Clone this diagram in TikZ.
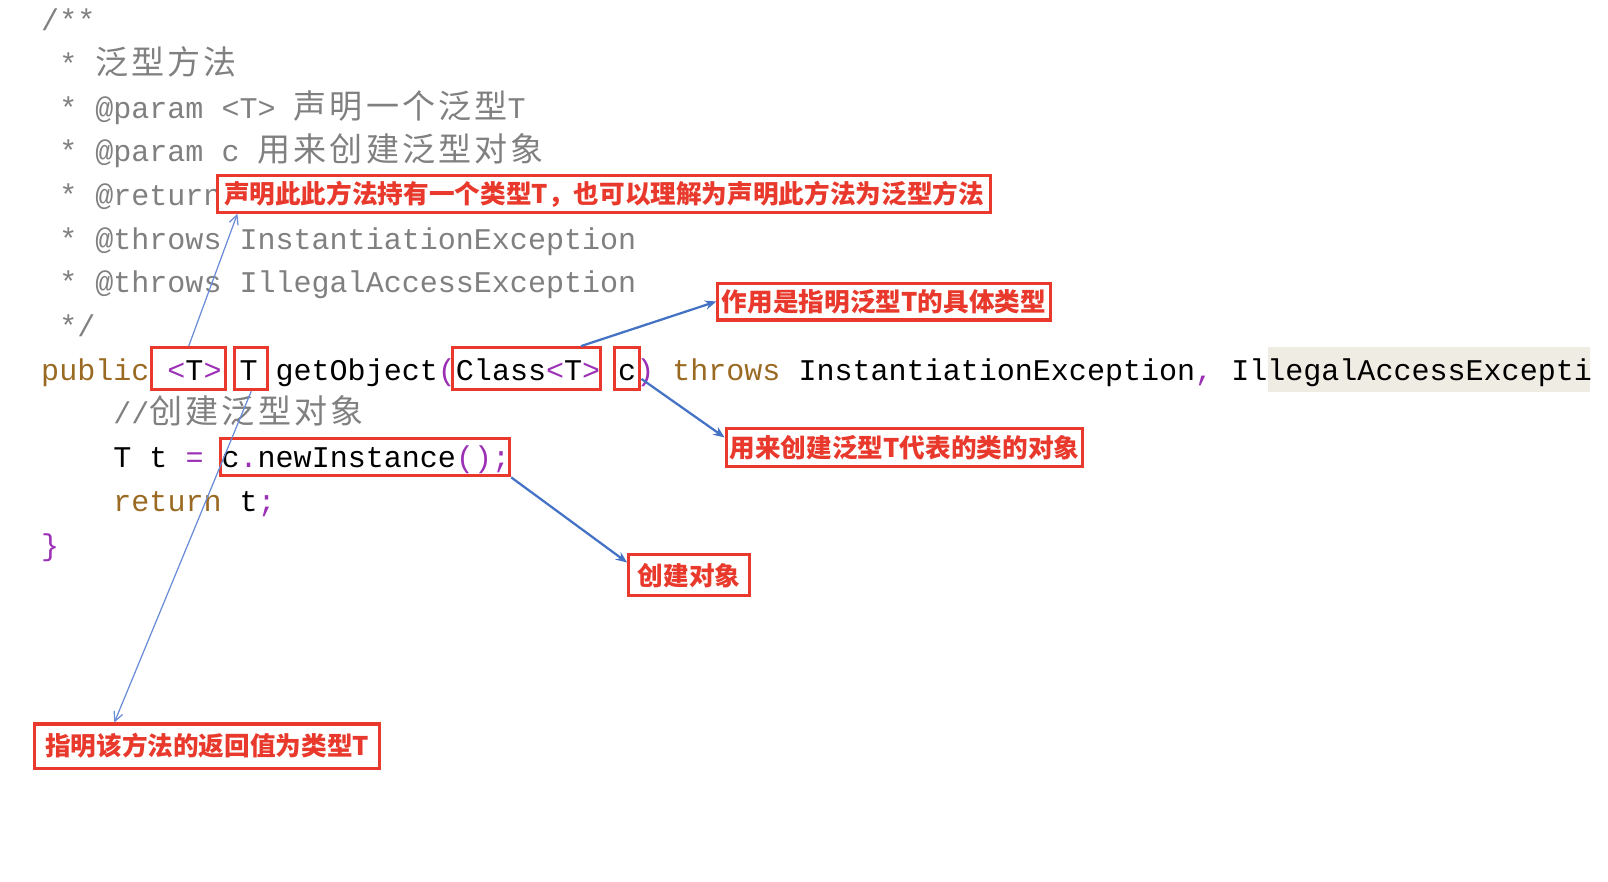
\documentclass[tikz,border=0pt]{standalone}
\usepackage{fontspec}
\usepackage{xcolor}
\usetikzlibrary{arrows.meta,positioning}
\setmonofont{Liberation Mono}
\newfontfamily\cjk{Noto Sans CJK SC}
\newfontfamily\cjkcode[Scale=1.1,LetterSpace=9.5]{Noto Sans CJK SC}
\definecolor{comment}{HTML}{808080}
\definecolor{keyword}{HTML}{9A6A22}
\definecolor{punct}{HTML}{9B2FB5}
\definecolor{mark}{HTML}{E8392C}
\definecolor{pointer}{HTML}{4472C4}
\definecolor{pointerlight}{HTML}{6A8BD6}
\definecolor{hilite}{HTML}{EFEDE3}
\newcommand\kw[1]{\textcolor{keyword}{#1}}
\newcommand\punc[1]{\textcolor{punct}{#1}}
\tikzset{
    % code line style
    code/.style={
        anchor=base west,
        inner sep=0pt,
        font=\ttfamily\fontsize{29.3pt}{34pt}\selectfont
    },
    comment line/.style={
        code,
        text=comment
    },
    % red frame round a piece of code
    marked/.style={
        rectangle,
        draw=mark,
        line width=3pt,
        inner sep=0pt,
        minimum height=41pt
    },
    % red note box
    note/.style={
        rectangle,
        draw=mark,
        fill=white,
        line width=3pt,
        inner sep=0pt,
        text=mark,
        font=\cjk\bfseries\fontsize{25pt}{29pt}\selectfont
    },
    % arrow styles
    pointer/.style={
        -{Stealth[length=11pt, width=9pt]},
        line width=2.2pt,
        color=pointer
    },
    pointer thin/.style={
        -{Straight Barb[length=9pt, width=9pt]},
        line width=1.2pt,
        color=pointerlight
    }
}
\begin{document}
\begin{tikzpicture}[x=1pt, y=-1pt]
    \useasboundingbox (0,0) rectangle (1568,860);

    % selection behind the end of the signature
    \node[fill=hilite, inner sep=0pt, minimum width=314pt, minimum height=44pt] (sel) at (1393,360) {};

    % Javadoc comment
    \node[comment line] (c1) at (40,30) {/**};
    \node[comment line] (c2) at (57.6,72.6) {* {\cjkcode 泛型方法}};
    \node[comment line] (c3) at (57.6,115.2) {* @param <T> {\cjkcode 声明一个泛型}T};
    \node[comment line] (c4) at (57.6,157.8) {* @param c {\cjkcode 用来创建泛型对象}};
    \node[comment line] (c5) at (57.6,200.4) {* @return};
    \node[comment line] (c6) at (57.6,243) {* @throws InstantiationException};
    \node[comment line] (c7) at (57.6,285.6) {* @throws IllegalAccessException};
    \node[comment line] (c8) at (57.6,328.2) {*/};

    % Method
    \node[code] (c9) at (40,370.8) {\kw{public} \punc{<}T\punc{>} T getObject\punc{(}Class\punc{<}T\punc{>} c\punc{)} \kw{throws} InstantiationException\punc{,} IllegalAccessExcepti};
    \node[comment line] (c10) at (110.4,413.4) {//{\cjkcode 创建泛型对象}};
    \node[code] (c11) at (110.4,456) {T t \punc{=} c\punc{.}newInstance\punc{();}};
    \node[code] (c12) at (110.4,498.6) {\kw{return} t\punc{;}};
    \node[code] (c13) at (40,541.2) {\punc{\}}};

    % Marked pieces of code
    \node[marked, minimum width=72pt] (typeparam) at (184,359.5) {};
    \node[marked, minimum width=32pt] (rettype) at (245,359.5) {};
    \node[marked, minimum width=145pt] (classarg) at (513.5,359.5) {};
    \node[marked, minimum width=25pt] (carg) at (611.5,359.5) {};
    \node[marked, minimum width=282pt, minimum height=36pt] (newinst) at (356,446) {};

    % Notes
    \node[note, minimum width=754pt, minimum height=36pt] (declnote) at (589,189) {声明此此方法持有一个类型T，也可以理解为声明此方法为泛型方法};
    \node[note, minimum width=324pt, minimum height=36pt] (classnote) at (862,294) {作用是指明泛型T的具体类型};
    \node[note, minimum width=348pt, minimum height=37pt] (cnote) at (882,436.5) {用来创建泛型T代表的类的对象};
    \node[note, minimum width=118pt, minimum height=40pt] (newnote) at (672,561) {创建对象};
    \node[note, minimum width=336pt, minimum height=43pt] (retnote) at (202,727.5) {指明该方法的返回值为类型T};

    % Connections
    \draw[pointer thin] (typeparam.north) -- ([xshift=21pt]declnote.south west);
    \draw[pointer] ([xshift=-21pt]classarg.north east) -- (classnote.west);
    \draw[pointer] ([yshift=-10pt]carg.east) -- ([yshift=-10pt]cnote.north west);
    \draw[pointer] (newinst.south east) -- ([yshift=-9pt]newnote.north west);
    \draw[pointer thin] (rettype.south) -- ([xshift=79pt]retnote.north west);

\end{tikzpicture}
\end{document}
